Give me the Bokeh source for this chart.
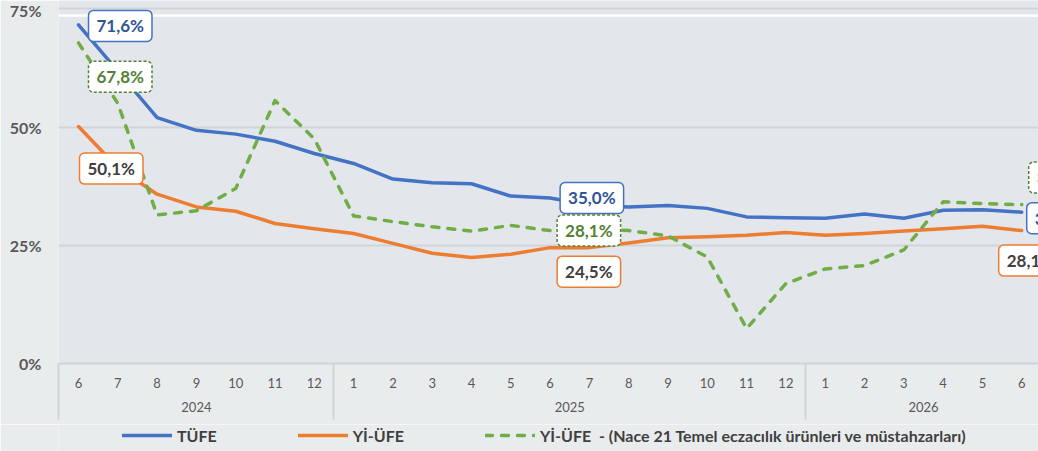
from bokeh.plotting import figure
from bokeh.layouts import column
from bokeh.models import (FixedTicker, LinearAxis, Range1d, Legend, LegendItem,
                          Label, Span, PrintfTickFormatter)
from bokeh.embed import file_html
from bokeh.resources import INLINE

# ---------------- data ----------------
years = ["2024", "2025", "2026"]
months_by_year = [[6, 7, 8, 9, 10, 11, 12],
                  [1, 2, 3, 4, 5, 6, 7, 8, 9, 10, 11, 12],
                  [1, 2, 3, 4, 5, 6]]
tufe = [71.6, 61.8, 52.0, 49.3, 48.5, 47.0, 44.4, 42.3, 39.0, 38.2, 38.0, 35.4,
        35.0, 33.5, 33.1, 33.4, 32.8, 31.0, 30.8, 30.7, 31.6, 30.7, 32.4, 32.5, 32.0]
yiufe = [50.1, 41.4, 35.8, 33.1, 32.2, 29.6, 28.5, 27.5, 25.4, 23.3, 22.4, 23.1,
         24.5, 24.5, 25.5, 26.6, 26.8, 27.1, 27.7, 27.1, 27.5, 28.0, 28.5, 29.0, 28.1]
nace21 = [67.8, 55.0, 31.4, 32.3, 37.0, 55.6, 47.5, 31.2, 30.0, 28.9, 28.0, 29.2,
          28.1, 28.6, 28.1, 27.0, 22.5, 7.4, 16.9, 20.0, 20.7, 24.0, 34.2, 33.8, 33.6]
y_ticks = [0, 25, 50, 75]
series_names = ["TÜFE", "Yİ-ÜFE",
                "Yİ-ÜFE  - (Nace 21 Temel eczacılık ürünleri ve müstahzarları)"]

# ---------------- derived positions ----------------
month_labels = [str(m) for ms in months_by_year for m in ms]
idx = list(range(len(month_labels)))
seps, centers = [], []
start = 0
for ms in months_by_year:
    seps.append(start - 0.5)
    centers.append(start + (len(ms) - 1) / 2)
    start += len(ms)

FONT = "Lato"
BLUE, ORANGE, GREEN = "#4472C4", "#ED7D31", "#70AD47"
GRID = "#D1D4D7"
TXT = "#595959"
BG = "#E3E7EB"
BORDER = "#E9ECED"

p = figure(width=1038, height=424, output_backend="svg", toolbar_location=None,
           x_range=Range1d(-0.509, 24.427), y_range=Range1d(0, 76.755),
           min_border_left=58, min_border_right=0, min_border_top=0,
           min_border_bottom=61, x_axis_location=None)
p.background_fill_color = BG
p.border_fill_color = BORDER
p.outline_line_color = None

# y axis
p.yaxis.ticker = FixedTicker(ticks=y_ticks)
p.yaxis.formatter = PrintfTickFormatter(format="%d%%")
p.yaxis.axis_line_color = None
p.yaxis.major_tick_line_color = None
p.yaxis.major_tick_out = 0
p.yaxis.minor_tick_line_color = None
p.yaxis.major_label_standoff = 17
p.yaxis.major_label_text_font = FONT
p.yaxis.major_label_text_font_style = "bold"
p.yaxis.major_label_text_font_size = "16px"
p.yaxis.major_label_text_color = TXT
p.ygrid.ticker = FixedTicker(ticks=y_ticks)
p.ygrid.grid_line_color = GRID
p.ygrid.grid_line_width = 2
p.xgrid.grid_line_color = None

# decorative white line near the top
p.add_layout(Span(location=73.6, dimension="width", line_color="white",
                  line_width=2.5))

# month axis (minor ticks = year separators)
SEP_LEN = 56
ax_m = LinearAxis(ticker=FixedTicker(ticks=idx, minor_ticks=seps),
                  major_label_overrides={i: m for i, m in zip(idx, month_labels)})
ax_m.axis_line_color = GRID
ax_m.axis_line_width = 2
ax_m.major_tick_line_color = None
ax_m.major_tick_out = 0
ax_m.minor_tick_in = 0
ax_m.minor_tick_out = SEP_LEN
ax_m.minor_tick_line_color = GRID
ax_m.minor_tick_line_width = 2
ax_m.major_label_standoff = 14 - SEP_LEN
ax_m.major_label_text_font = FONT
ax_m.major_label_text_font_size = "13px"
ax_m.major_label_text_color = TXT
p.add_layout(ax_m, "below")

# year axis
ax_y = LinearAxis(ticker=FixedTicker(ticks=centers),
                  major_label_overrides={c: y for c, y in zip(centers, years)})
ax_y.axis_line_color = None
ax_y.major_tick_line_color = None
ax_y.minor_tick_line_color = None
ax_y.major_tick_out = 0
ax_y.major_label_standoff = 11
ax_y.major_label_text_font = FONT
ax_y.major_label_text_font_size = "13px"
ax_y.major_label_text_color = TXT
p.add_layout(ax_y, "below")

# lines
series = [tufe, yiufe, nace21]
line_styles = [dict(line_color=BLUE, line_width=3.5),
               dict(line_color=ORANGE, line_width=3.5),
               dict(line_color=GREEN, line_width=3.5, line_dash="7 9")]
for ys, st in zip(series, line_styles):
    p.line(idx, ys, line_join="round", line_cap="round", **st)


def pct(v):
    return f"{v:.1f}".replace(".", ",") + "%"


def add_box(i, ys, text_color, border_color, dx, dy, dash="solid"):
    p.add_layout(Label(x=idx[i], y=ys[i], x_offset=dx, y_offset=dy,
                       text=pct(ys[i]), text_font=FONT, text_font_style="bold",
                       text_font_size="17px", text_color=text_color,
                       text_align="left", text_baseline="middle",
                       background_fill_color="white",
                       border_line_color=border_color, border_line_width=1.5,
                       border_line_dash=dash,
                       padding=dict(left=8, right=8, top=5, bottom=5),
                       border_radius=5))


last = len(idx) - 1
mid = 12
add_box(0, tufe, "#2F5597", BLUE, 10, -1)
add_box(0, nace21, "#548235", "#548235", 10, -34, "3 2")
add_box(0, yiufe, "#404040", ORANGE, 1, -42)
add_box(mid, tufe, "#2F5597", BLUE, 10, 0)
add_box(mid, nace21, "#548235", "#548235", 7, 0, "3 2")
add_box(mid, yiufe, "#404040", ORANGE, 7, -24)
add_box(last, tufe, "#2F5597", BLUE, 5, -6)
add_box(last, yiufe, "#404040", ORANGE, -23, -30)
add_box(last, nace21, "#548235", "#548235", 7, 27, "3 2")

# ---------------- legend strip ----------------
pl = figure(width=1038, height=27, output_backend="svg", toolbar_location=None,
            x_range=Range1d(0, 1), y_range=Range1d(0, 1),
            min_border_left=0, min_border_right=0, min_border_top=0,
            min_border_bottom=0, x_axis_location=None, y_axis_location=None)
pl.background_fill_color = BORDER
pl.border_fill_color = BORDER
pl.outline_line_color = None
pl.grid.visible = False
items = []
for name, ys, st in zip(series_names, series, line_styles):
    # same series, entirely outside this strip's y range -> only the legend glyph shows
    r = pl.line(idx, ys, line_join="round", line_cap="round", **st)
    items.append(LegendItem(label=name, renderers=[r]))
legend = Legend(items=items, orientation="horizontal", location=(64, 6),
                spacing=81, glyph_width=50, glyph_height=20, label_standoff=5,
                padding=2, margin=0, background_fill_alpha=0, border_line_color=None,
                label_text_font=FONT, label_text_font_style="bold",
                label_text_font_size="16px", label_text_color="#404040")
pl.add_layout(legend, "center")

open("out.html", "w").write(file_html(column(p, pl, spacing=0), INLINE))
